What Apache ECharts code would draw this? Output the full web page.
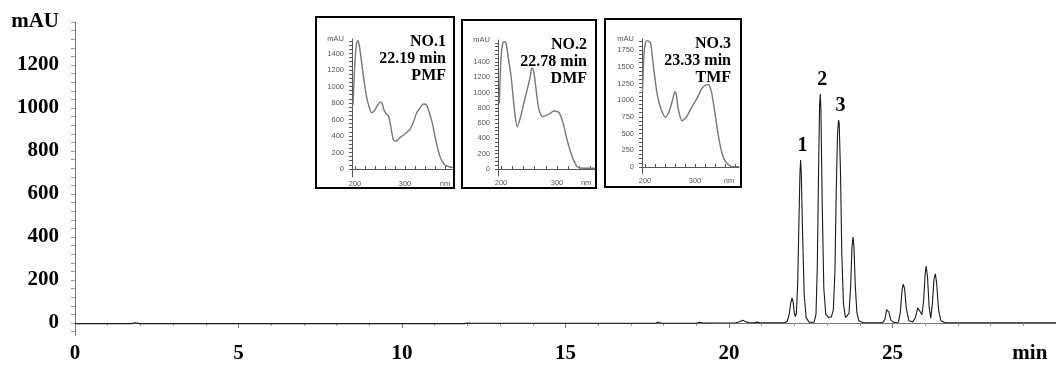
<!DOCTYPE html>
<html>
<head>
<meta charset="utf-8">
<script src="https://cdn.jsdelivr.net/npm/echarts@6.0.0/dist/echarts.min.js"></script>
<style>
html,body{margin:0;padding:0;background:#fff;}
#main{width:1056px;height:367px;}
</style>
</head>
<body>
<div id="main"></div>
<script>
// chromatogram [min, mAU]
var chromatogram = [
  [0,-3],[1.75,-3],[1.82,1],[1.9,0],[1.97,-3],[11.9,-3],[12.0,0],[12.08,-2],[12.2,-1],
  [17.75,-1],[17.84,3],[17.93,-1],[19.0,-1],[19.1,3],[19.2,0],[20.2,1],[20.32,6],
  [20.42,13],[20.52,5],[20.62,2],[20.78,1],[20.86,4],[20.95,1],[21.7,1],
  [21.78,8],[21.84,40],[21.89,95],[21.93,116],[21.96,98],[22.0,45],[22.03,30],
  [22.06,45],[22.1,180],[22.14,480],[22.17,700],[22.19,758],[22.21,700],[22.25,420],[22.3,130],[22.36,25],[22.45,3],
  [22.6,3],[22.66,40],[22.7,260],[22.74,720],[22.77,1010],[22.79,1065],[22.81,1000],[22.85,560],[22.9,160],[22.96,40],[23.05,25],[23.13,28],
  [23.19,60],[23.24,240],[23.28,620],[23.32,880],[23.35,944],[23.37,930],[23.41,700],[23.45,320],[23.5,90],[23.56,25],[23.61,18],
  [23.67,45],[23.72,170],[23.76,350],[23.79,400],[23.82,360],[23.86,180],[23.91,50],[23.97,10],[24.1,1],
  [24.7,1],[24.77,18],[24.82,62],[24.85,70],[24.89,50],[24.95,12],[25.05,2],
  [25.18,3],[25.24,50],[25.29,150],[25.33,181],[25.37,160],[25.42,70],[25.5,10],[25.62,5],
  [25.7,25],[25.77,70],[25.8,75],[25.85,52],[25.9,38],[25.95,100],[26.0,230],[26.03,265],[26.07,215],[26.12,75],[26.17,22],
  [26.22,90],[26.27,205],[26.31,228],[26.35,185],[26.41,60],[26.48,10],[26.6,1],[30,1]
];
var peakNames = ['1', '2', '3'];
var peakPos = [[22.19, 758], [22.79, 1065], [23.35, 944]];
var xLabels = [0, 5, 10, 15, 20, 25, 29.2];
var yLabels = [0, 200, 400, 600, 800, 1000, 1200, 1400];
var yTicks = [];
for (var v = -40; v <= 1400; v += 40) yTicks.push(v);

// UV spectra [nm, mAU]
var specPMF = [[196,776],[200,1300],[203,1520],[206,1555],[209,1480],[213,1300],[217,1119],[223,877],[228,760],[233,683],[238,700],[245,770],[251,816],[255,780],[258,715],[263,665],[267,642],[272,500],[277,352],[282,340],[290,380],[297,412],[304,445],[310,481],[317,570],[323,675],[330,740],[337,788],[343,776],[351,634],[356,520],[360,391],[365,260],[370,150],[375,90],[380,48],[390,24],[396,20]];
var specDMF = [[197,860],[200,1450],[203,1640],[206,1664],[209,1640],[213,1450],[218,1206],[224,771],[229,553],[235,684],[242,902],[248,1076],[252,1200],[255,1316],[258,1290],[262,1076],[265,900],[268,771],[274,684],[283,706],[290,740],[295,758],[300,752],[304,736],[311,597],[318,379],[327,161],[332,80],[336,30],[345,9],[368,9]];
var specTMF = [[195,1128],[198,1700],[201,1860],[204,1891],[208,1880],[211,1860],[214,1700],[217,1502],[224,1104],[229,940],[234,828],[241,744],[247,808],[252,920],[255,1003],[259,1110],[261,1128],[264,1000],[267,853],[274,693],[279,720],[284,763],[294,903],[304,1028],[314,1178],[322,1228],[327,1233],[331,1170],[334,1083],[341,753],[347,454],[354,205],[359,110],[364,55],[374,5],[388,5]];
var insetNames = [['NO.1', '22.19 min', 'PMF'], ['NO.2', '22.78 min', 'DMF'], ['NO.3', '23.33 min', 'TMF']];
var insetYLabels = [
  [0, 200, 400, 600, 800, 1000, 1200, 1400, 1575],
  [0, 200, 400, 600, 800, 1000, 1200, 1400, 1686],
  [0, 250, 500, 750, 1000, 1250, 1500, 1750, 1916]
];
var insetXLabels = [[200, 300, 380], [200, 300, 352], [200, 300, 368]];

var serif = '"Liberation Serif", "Times New Roman", serif';
var chart = echarts.init(document.getElementById('main'));

var insetGrids = [
  {left: 352, top: 39, width: 101, height: 138},
  {left: 498, top: 40, width: 97, height: 136},
  {left: 642, top: 39, width: 97, height: 135}
];
var insetX = [[194, 396], [194.6, 367.8], [194, 388]];
var insetY = [[-97, 1575], [-91.5, 1686], [-105, 1916]];
var insetYStep = [50, 50, 62.5];
var insetBoxes = [[316, 17, 138, 171], [462, 20, 134, 168], [605, 19, 136, 168]];
var insetTextRight = [446, 587, 731];

var grids = [{left: 75, right: 0, top: 22, bottom: 32}];
var xAxes = [{
  type: 'value', gridIndex: 0, min: 0, max: 30, interval: 5,
  axisLine: {lineStyle: {color: '#777', width: 1}},
  axisTick: {length: 5, lineStyle: {color: '#777'}},
  minorTick: {show: true, splitNumber: 5, length: 3, lineStyle: {color: '#999'}},
  splitLine: {show: false},
  axisLabel: {
    customValues: xLabels, margin: 8, color: '#000', fontFamily: serif, fontWeight: 'bold', fontSize: 21,
    formatter: function (v) { return v > 28 ? 'min' : v; }
  }
}];
var yAxes = [{
  type: 'value', gridIndex: 0, min: -56, max: 1400,
  axisLine: {show: true, lineStyle: {color: '#777', width: 1}},
  axisTick: {show: true, customValues: yTicks, length: 4, lineStyle: {color: '#999'}},
  splitLine: {show: false},
  axisLabel: {
    customValues: yLabels, margin: 16, color: '#000', fontFamily: serif, fontWeight: 'bold', fontSize: 21,
    formatter: function (v) { return v === 1400 ? 'mAU' : v; }
  }
}];
var series = [{
  type: 'line', xAxisIndex: 0, yAxisIndex: 0, data: chromatogram, showSymbol: false,
  lineStyle: {color: '#1a1a1a', width: 1.1}, silent: true
}, {
  type: 'scatter', xAxisIndex: 0, yAxisIndex: 0, symbolSize: 0, silent: true,
  itemStyle: {opacity: 1},
  data: peakPos.map(function (p, i) { return {value: p, name: peakNames[i]}; }),
  label: {
    show: true, position: 'top', distance: 4, offset: [2, 0], opacity: 1,
    formatter: '{b}', color: '#000', fontFamily: serif, fontWeight: 'bold', fontSize: 20
  }
}];

var specs = [specPMF, specDMF, specTMF];
var graphics = [];
for (var i = 0; i < 3; i++) {
  grids.push(insetGrids[i]);
  var xt = [];
  for (var n = 200; n <= insetX[i][1]; n += 20) xt.push(n);
  var yt = [];
  for (var m = 0; m <= insetY[i][1]; m += insetYStep[i]) yt.push(m);
  (function (i) {
    xAxes.push({
      type: 'value', gridIndex: i + 1, min: insetX[i][0], max: insetX[i][1],
      axisLine: {lineStyle: {color: '#555', width: 1}},
      axisTick: {customValues: xt, inside: true, length: 3, lineStyle: {color: '#555'}},
      splitLine: {show: false},
      axisLabel: {
        customValues: insetXLabels[i], margin: 3, color: '#555', fontSize: 7.5, fontFamily: 'Liberation Sans',
        formatter: function (v) { return v > 340 ? 'nm' : v; }
      }
    });
    yAxes.push({
      type: 'value', gridIndex: i + 1, min: insetY[i][0], max: insetY[i][1],
      axisLine: {show: true, lineStyle: {color: '#555', width: 1}},
      axisTick: {show: true, customValues: yt, length: 3, lineStyle: {color: '#555'}},
      splitLine: {show: false},
      axisLabel: {
        customValues: insetYLabels[i], margin: 8, color: '#555', fontSize: 7.5, fontFamily: 'Liberation Sans',
        formatter: function (v) { return v === insetYLabels[i][insetYLabels[i].length - 1] ? 'mAU' : v; }
      }
    });
  })(i);
  series.push({
    type: 'line', xAxisIndex: i + 1, yAxisIndex: i + 1, data: specs[i], showSymbol: false,
    smooth: 0.3, lineStyle: {color: '#777', width: 1.4}, silent: true
  });
  var b = insetBoxes[i];
  graphics.push({
    type: 'rect', shape: {x: b[0], y: b[1], width: b[2], height: b[3]},
    style: {fill: null, stroke: '#000', lineWidth: 2}, silent: true
  });
  graphics.push({
    type: 'text', x: insetTextRight[i], y: b[1] + 16,
    style: {
      text: insetNames[i].join('\n'), align: 'right', verticalAlign: 'top',
      font: 'bold 16px ' + serif, fill: '#000', lineHeight: 17
    }, silent: true
  });
}

chart.setOption({
  animation: false,
  backgroundColor: '#fff',
  grid: grids,
  xAxis: xAxes,
  yAxis: yAxes,
  series: series,
  graphic: graphics
});
</script>
</body>
</html>
